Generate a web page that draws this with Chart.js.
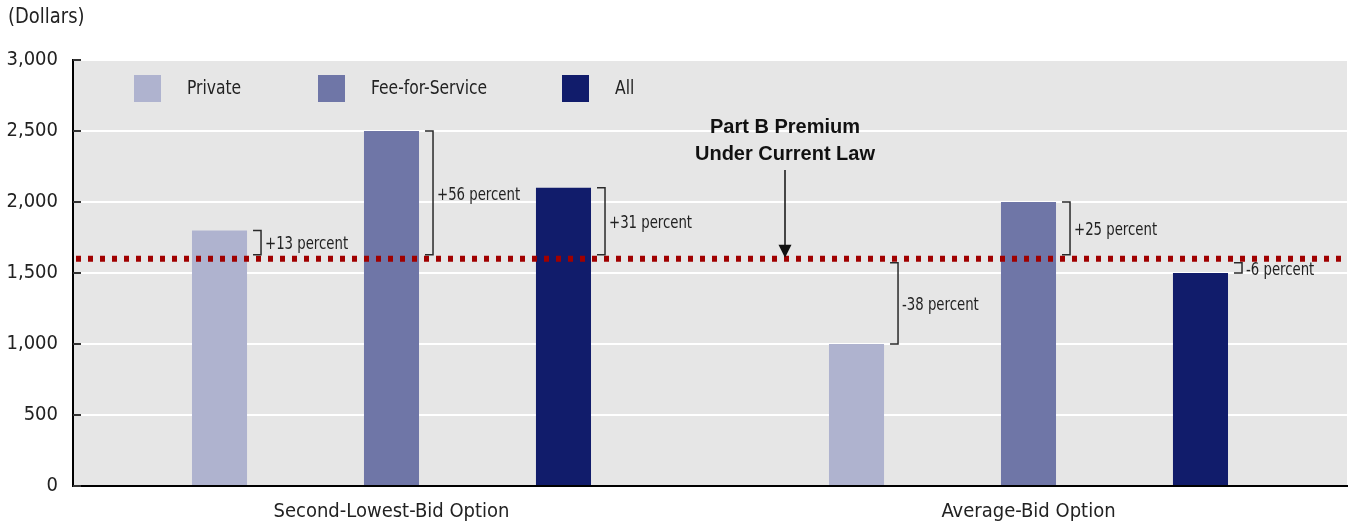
<!DOCTYPE html>
<html>
<head>
<meta charset="utf-8">
<script src="https://cdn.jsdelivr.net/npm/chart.js@4/dist/chart.umd.min.js"></script>
<style>
  body { margin: 0; background: #fff; }
  #wrap { width: 1349px; height: 527px; }
</style>
</head>
<body>
<div id="wrap"><canvas id="premiumChart" width="1349" height="527"></canvas></div>
<script>
// chart values
const categories = ['Second-Lowest-Bid Option', 'Average-Bid Option'];
const seriesNames = ['Private', 'Fee-for-Service', 'All'];
const privateValues = [1800, 1000];
const ffsValues = [2500, 2000];
const allValues = [2100, 1500];
const premiumCurrentLaw = 1600;
const privateChange = ['+13 percent', '-38 percent'];
const ffsChange = ['+56 percent', '+25 percent'];
const allChange = ['+31 percent', '-6 percent'];
const yTickValues = [0, 500, 1000, 1500, 2000, 2500, 3000];

const seriesColors = ['#afb3cf', '#6f76a7', '#111c6b'];
const narrowFont = "'Liberation Sans Narrow', 'DejaVu Sans Condensed', 'Arial Narrow', sans-serif";
const boldFont = "'Liberation Sans', Arial, sans-serif";

Chart.defaults.font.family = narrowFont;
Chart.defaults.color = '#222';

const changeLabels = [privateChange, ffsChange, allChange];

// squeeze text a bit so it looks like the condensed face of the original
function squeezedText(ctx, text, x, y, sx) {
    ctx.save();
    ctx.translate(x, y);
    ctx.scale(sx, 1);
    ctx.fillText(text, 0, 0);
    ctx.restore();
}

const extrasPlugin = {
    id: 'extras',
    beforeDraw(chart) {
        const { ctx, chartArea: a } = chart;
        ctx.save();
        ctx.fillStyle = '#e6e6e6';
        ctx.fillRect(a.left, a.top, a.right - a.left, a.bottom - a.top);
        ctx.restore();
    },
    afterDatasetsDraw(chart) {
        const { ctx, chartArea: a, scales } = chart;
        const yLine = scales.y.getPixelForValue(premiumCurrentLaw);
        ctx.save();

        // dotted premium line
        ctx.strokeStyle = '#a00000';
        ctx.lineWidth = 6;
        ctx.setLineDash([5, 7]);
        ctx.beginPath();
        ctx.moveTo(a.left + 3, yLine);
        ctx.lineTo(a.right, yLine);
        ctx.stroke();
        ctx.setLineDash([]);

        // brackets + percent labels
        ctx.strokeStyle = '#2a2a2a';
        ctx.lineWidth = 1.5;
        ctx.fillStyle = '#222';
        ctx.font = '18px ' + narrowFont;
        ctx.textBaseline = 'middle';
        ctx.textAlign = 'left';
        chart.data.datasets.forEach((ds, i) => {
            const meta = chart.getDatasetMeta(i);
            meta.data.forEach((bar, j) => {
                const right = bar.x + bar.width / 2;
                const x0 = right + 6;
                const x1 = right + 14;
                const above = ds.data[j] > premiumCurrentLaw;
                const yA = bar.y;
                const yB = above ? yLine - 4 : yLine + 4;
                ctx.beginPath();
                ctx.moveTo(x0, yA);
                ctx.lineTo(x1, yA);
                ctx.lineTo(x1, yB);
                ctx.lineTo(x0, yB);
                ctx.stroke();
                squeezedText(ctx, changeLabels[i][j], x1 + 4, (yA + yB) / 2 + 2, 0.82);
            });
        });

        // annotation arrow
        const ax = 785;
        ctx.fillStyle = '#111';
        ctx.strokeStyle = '#111';
        ctx.lineWidth = 1.5;
        ctx.beginPath();
        ctx.moveTo(ax, 170);
        ctx.lineTo(ax, yLine - 10);
        ctx.stroke();
        ctx.beginPath();
        ctx.moveTo(ax - 6.5, yLine - 14);
        ctx.lineTo(ax + 6.5, yLine - 14);
        ctx.lineTo(ax, yLine - 1);
        ctx.closePath();
        ctx.fill();
        ctx.font = 'bold 20px ' + boldFont;
        ctx.textAlign = 'center';
        ctx.textBaseline = 'alphabetic';
        ctx.fillText('Part B Premium', ax, 133);
        ctx.fillText('Under Current Law', ax, 160);
        ctx.restore();
    },
    afterDraw(chart) {
        const { ctx, chartArea: a, scales } = chart;
        ctx.save();
        // inward tick marks on y axis
        ctx.strokeStyle = '#333';
        ctx.lineWidth = 2;
        yTickValues.forEach(v => {
            const y = scales.y.getPixelForValue(v);
            ctx.beginPath();
            ctx.moveTo(a.left, y);
            ctx.lineTo(a.left + 8, y);
            ctx.stroke();
        });

        // legend inside plot
        const legendX = [61, 245, 489];
        ctx.font = '19px ' + narrowFont;
        ctx.textBaseline = 'middle';
        ctx.textAlign = 'left';
        seriesNames.forEach((name, i) => {
            const x = a.left + legendX[i];
            ctx.fillStyle = seriesColors[i];
            ctx.fillRect(x, 75, 27, 27);
            ctx.fillStyle = '#222';
            squeezedText(ctx, name, x + 53, 89, 0.91);
        });

        // unit label
        ctx.font = '21px ' + narrowFont;
        squeezedText(ctx, '(Dollars)', 8, 18, 0.95);
        ctx.restore();
    }
};

new Chart(document.getElementById('premiumChart'), {
    type: 'bar',
    data: {
        labels: categories,
        datasets: [
            { label: seriesNames[0], data: privateValues, backgroundColor: seriesColors[0] },
            { label: seriesNames[1], data: ffsValues, backgroundColor: seriesColors[1] },
            { label: seriesNames[2], data: allValues, backgroundColor: seriesColors[2] }
        ]
    },
    options: {
        responsive: false,
        animation: false,
        devicePixelRatio: 1,
        categoryPercentage: 0.81,
        barPercentage: 0.32,
        layout: { padding: { top: 60, right: 2, left: 0, bottom: 0 } },
        plugins: {
            legend: { display: false },
            tooltip: { enabled: false }
        },
        scales: {
            x: {
                grid: { display: false, drawTicks: false },
                border: { display: true, color: '#000', width: 2 },
                ticks: { font: { size: 20 }, color: '#222', padding: 14 },
                afterFit(scale) { scale.height = 41; }
            },
            y: {
                min: 0,
                max: 3000,
                afterBuildTicks(scale) { scale.ticks = yTickValues.map(v => ({ value: v })); },
                grid: {
                    color: c => (c.tick && c.tick.value === 0) ? 'rgba(0,0,0,0)' : '#ffffff',
                    lineWidth: 2,
                    drawTicks: false
                },
                border: { display: true, color: '#000', width: 2 },
                ticks: {
                    font: { size: 20 },
                    color: '#222',
                    padding: 15,
                    callback: v => v.toLocaleString('en-US')
                },
                afterFit(scale) { scale.width = 73; }
            }
        }
    },
    plugins: [extrasPlugin]
});
</script>
</body>
</html>
